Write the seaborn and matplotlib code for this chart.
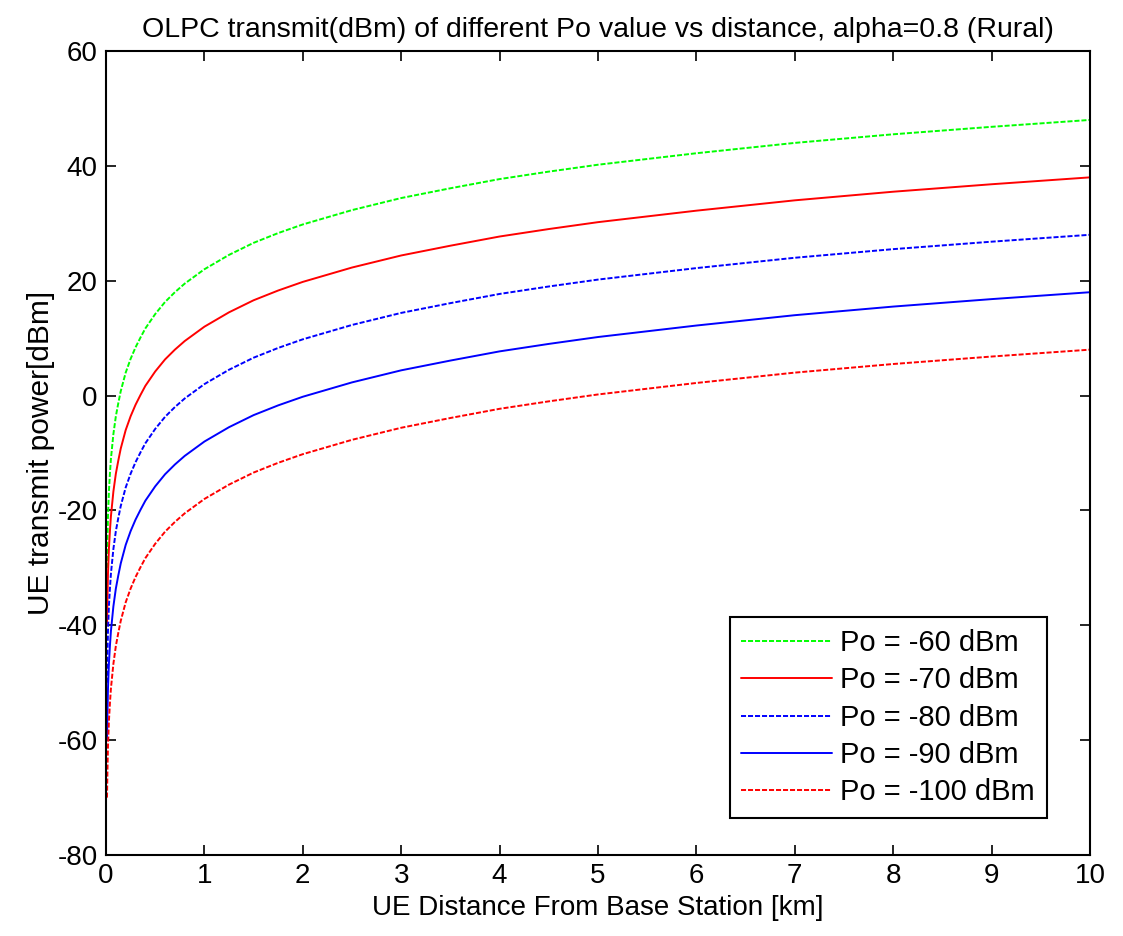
import matplotlib
matplotlib.use("Agg")
import matplotlib.pyplot as plt
import seaborn as sns
import pandas as pd

# distance from base station [km]
distance_km = [0.01, 0.015, 0.02, 0.03, 0.04, 0.05, 0.075, 0.1, 0.125, 0.15, 0.2, 0.25,
               0.3, 0.35, 0.4, 0.5, 0.6, 0.7, 0.8, 1.0, 1.25, 1.5, 1.75, 2.0, 2.5, 3.0,
               3.5, 4.0, 4.5, 5.0, 6.0, 7.0, 8.0, 9.0, 10.0]

# UE transmit power [dBm]
po_m60 = [-30.0, -25.0, -21.0, -16.5, -13.5, -11.0, -6.7, -3.6, -1.3, 0.8, 4.0, 6.4,
          8.4, 10.1, 11.7, 14.2, 16.3, 18.0, 19.5, 22.0, 24.5, 26.6, 28.3, 29.8, 32.3, 34.4,
          36.1, 37.7, 39.0, 40.2, 42.2, 44.0, 45.5, 46.8, 48.0]
po_m70 = [-40.0, -35.0, -31.0, -26.5, -23.5, -21.0, -16.7, -13.6, -11.3, -9.2, -6.0, -3.6,
          -1.6, 0.1, 1.7, 4.2, 6.3, 8.0, 9.5, 12.0, 14.5, 16.6, 18.3, 19.8, 22.3, 24.4,
          26.1, 27.7, 29.0, 30.2, 32.2, 34.0, 35.5, 36.8, 38.0]
po_m80 = [-50.0, -45.0, -41.0, -36.5, -33.5, -31.0, -26.7, -23.6, -21.3, -19.2, -16.0, -13.6,
          -11.6, -9.9, -8.3, -5.8, -3.7, -2.0, -0.5, 2.0, 4.5, 6.6, 8.3, 9.8, 12.3, 14.4,
          16.1, 17.7, 19.0, 20.2, 22.2, 24.0, 25.5, 26.8, 28.0]
po_m90 = [-60.0, -55.0, -51.0, -46.5, -43.5, -41.0, -36.7, -33.6, -31.3, -29.2, -26.0, -23.6,
          -21.6, -19.9, -18.3, -15.8, -13.7, -12.0, -10.5, -8.0, -5.5, -3.4, -1.7, -0.2, 2.3, 4.4,
          6.1, 7.7, 9.0, 10.2, 12.2, 14.0, 15.5, 16.8, 18.0]
po_m100 = [-70.0, -65.0, -61.0, -56.5, -53.5, -51.0, -46.7, -43.6, -41.3, -39.2, -36.0, -33.6,
           -31.6, -29.9, -28.3, -25.8, -23.7, -22.0, -20.5, -18.0, -15.5, -13.4, -11.7, -10.2, -7.7, -5.6,
           -3.9, -2.3, -1.0, 0.2, 2.2, 4.0, 5.5, 6.8, 8.0]

labels = ["Po = -60 dBm", "Po = -70 dBm", "Po = -80 dBm", "Po = -90 dBm", "Po = -100 dBm"]
x_ticks = [0, 1, 2, 3, 4, 5, 6, 7, 8, 9, 10]
y_ticks = [-80, -60, -40, -20, 0, 20, 40, 60]

series = [po_m60, po_m70, po_m80, po_m90, po_m100]
colors = ["#00ff00", "#ff0000", "#0000ff", "#0000ff", "#ff0000"]
dashed = [True, False, True, False, True]

sns.set_style("white")
plt.rcParams["font.family"] = ["Liberation Sans", "DejaVu Sans"]
plt.rcParams["font.size"] = 20
plt.rcParams["text.color"] = "black"
plt.rcParams["axes.labelcolor"] = "black"
plt.rcParams["xtick.color"] = "black"
plt.rcParams["ytick.color"] = "black"

fig = plt.figure(figsize=(11.23, 9.36), dpi=100)
ax = fig.add_axes([0.0944, 0.0865, 0.8762, 0.859])

for vals, lab, col, dsh in zip(series, labels, colors, dashed):
    df = pd.DataFrame({"d": distance_km, "p": vals})
    ls = (0, (2.6, 1.0)) if dsh else "-"
    sns.lineplot(data=df, x="d", y="p", ax=ax, color=col, linestyle=ls,
                 linewidth=1.4, label=lab, estimator=None, sort=False)

ax.set_xlim(0, 10)
ax.set_ylim(-80, 60)
ax.set_xticks(x_ticks)
ax.set_yticks(y_ticks)
ax.set_xticklabels([str(t) for t in x_ticks], fontsize=20, color="black")
ax.set_yticklabels([str(t) for t in y_ticks], fontsize=20, color="black")
ax.tick_params(direction="in", length=7, width=1.2, top=True, right=True,
               bottom=True, left=True, pad=6, colors="black")
for sp in ax.spines.values():
    sp.set_visible(True)
    sp.set_color("black")
    sp.set_linewidth(1.5)

ax.set_title("OLPC transmit(dBm) of different Po value vs distance, alpha=0.8 (Rural)",
             fontsize=20.5, pad=10, color="black")
ax.set_xlabel("UE Distance From Base Station [km]", fontsize=20, labelpad=4, color="black")
ax.set_ylabel("UE transmit power[dBm]", fontsize=21.5, labelpad=2, color="black")

leg = ax.legend(loc="lower right", bbox_to_anchor=(0.956, 0.046), fontsize=21,
                frameon=True, fancybox=False, shadow=False, framealpha=1,
                handlelength=3.1, labelspacing=0.32, borderpad=0.4,
                handletextpad=0.3, borderaxespad=0)
leg.get_frame().set_edgecolor("black")
leg.get_frame().set_linewidth(1.5)
for t in leg.get_texts():
    t.set_color("black")

fig.savefig("out.png", dpi=100)
